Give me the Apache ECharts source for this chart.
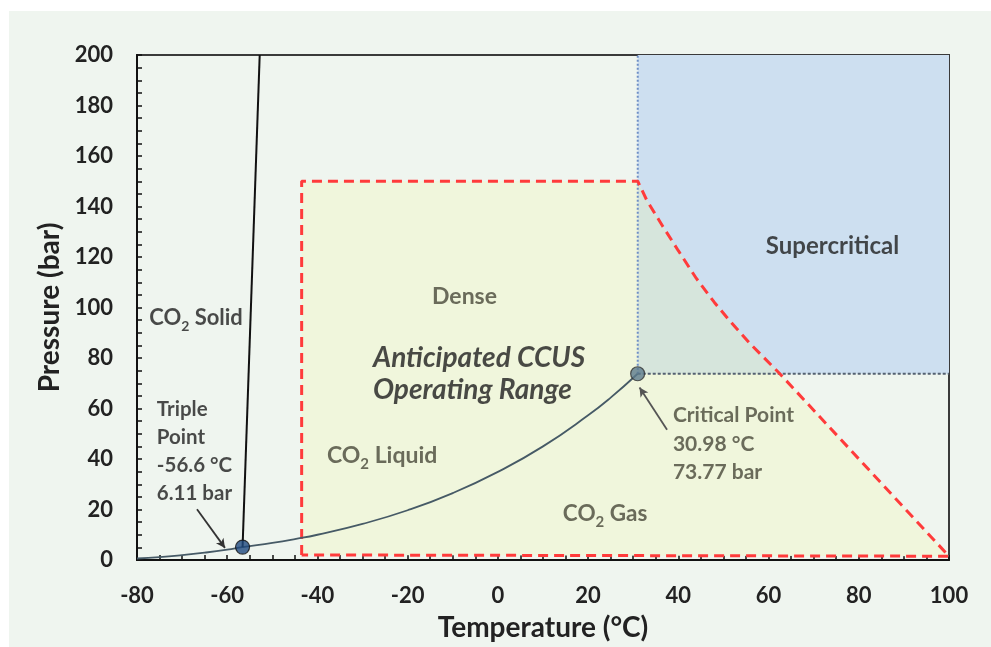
<!DOCTYPE html>
<html><head><meta charset="utf-8">
<script src="https://cdn.jsdelivr.net/npm/echarts@6/dist/echarts.min.js"></script>
<style>
html,body{margin:0;padding:0;background:#ffffff;width:991px;height:647px;overflow:hidden}
#c{position:absolute;left:9px;top:11px;width:982px;height:636px;background:#eff5ef}
</style></head><body><div id="c"></div>
<script>
// ---- data (°C, bar) ----
var xTicks = [-80,-60,-40,-20,0,20,40,60,80,100];
var yTicks = [0,20,40,60,80,100,120,140,160,180,200];
var vaporCurve = [[-80,0.6],[-75,1.1],[-70,1.9],[-65,2.9],[-60,4.1],[-56.6,5.1],[-50,6.8],[-45,8.3],[-40,10.0],[-30,14.3],[-20,19.7],[-10,26.5],[0,34.9],[10,45.0],[20,57.3],[25,64.3],[30.98,73.77]];
var meltingLine = [[-56.6,5.1],[-52.8,200]];
var triplePoint = [[-56.6,5.1]];
var criticalPoint = [[30.98,73.77]];
var opCurve = [[31,150],[33,142.5],[36.6,132],[40,122.5],[44,111.5],[48,102],[51.5,94.5],[56,85.5],[62.5,73.77]];
var opLeft = [[-43.5,2],[-43.5,150]];
var opRight = [[100,1.5]];
var superRect = [[31,73.77],[31,200],[100,200],[100,73.77]];
var critVert = [[31,73.77],[31,200]];
var critHoriz = [[31,73.77],[100,73.77]];
var tripleArrow = [[-66.7,20.1],[-60.5,4.8]];
var criticalArrow = [[37.5,51.6],[31.4,68.3]];

var opPolygon = opLeft.concat(opCurve).concat(opRight);
var opOutline = opPolygon.concat([opLeft[0]]);
var overlapPolygon = [[31,73.77]].concat(opCurve);

var FONT = 'Lato';
var chart = echarts.init(document.getElementById('c'));

function polySeries(name, pts, fill, z){
  return {
    name:name, type:'custom', z:z, silent:true,
    data:[[0,0]],
    renderItem:function(params, api){
      return {type:'polygon', shape:{points:pts.map(function(p){return api.coord(p);})}, style:{fill:fill, stroke:null}};
    }
  };
}
function textItem(pos, text, color, size, opts){
  opts = opts || {};
  return {
    value:pos,
    label:Object.assign({show:true, position:'inside', formatter:text, color:color, fontFamily:FONT,
      fontSize:size, fontWeight:'bold', align:'left', verticalAlign:'middle'}, opts)
  };
}
function co2(rest){
  return '{a|CO}{s|2}{a|' + rest + '}';
}
function co2Rich(color, size){
  return {a:{color:color, fontSize:size, fontFamily:FONT, fontWeight:'bold'},
          s:{color:color, fontSize:Math.round(size*0.65), fontFamily:FONT, fontWeight:'bold', padding:[17,0,0,0]}};
}

var dark = '#1e1e1e', olive = '#48483a';

chart.setOption({
  animation:false,
  grid:{left:128, top:44, right:42, bottom:84, show:true, borderColor:'#3a3a3a', borderWidth:2, backgroundColor:'transparent'},
  xAxis:{type:'value', min:xTicks[0], max:xTicks[xTicks.length-1], interval:20,
    name:'Temperature (°C)', nameLocation:'middle', nameGap:54,
    nameTextStyle:{fontFamily:FONT, fontWeight:'bold', fontSize:28, color:'#222'},
    axisLine:{show:true, onZero:false, lineStyle:{color:'#111', width:2}},
    axisTick:{show:true, inside:true, length:5, lineStyle:{color:'#111', width:1.5}},
    minorTick:{show:true, splitNumber:4, length:5, lineStyle:{color:'#111', width:1.5}},
    splitLine:{show:false},
    axisLabel:{margin:25, fontFamily:FONT, fontWeight:'bold', fontSize:22, color:'#222'}},
  yAxis:{type:'value', min:yTicks[0], max:yTicks[yTicks.length-1], interval:20,
    name:'Pressure (bar)', nameLocation:'middle', nameGap:58,
    nameTextStyle:{fontFamily:FONT, fontWeight:'bold', fontSize:28, color:'#222'},
    axisLine:{show:true, onZero:false, lineStyle:{color:'#111', width:2}},
    axisTick:{show:true, inside:true, length:5, lineStyle:{color:'#111', width:1.5}},
    minorTick:{show:true, splitNumber:4, length:5, lineStyle:{color:'#111', width:1.5}},
    splitLine:{show:false},
    axisLabel:{margin:24, fontFamily:FONT, fontWeight:'bold', fontSize:22, color:'#222'}},
  series:[
    polySeries('supercritical', superRect, '#cddff0', 1),
    polySeries('operating', opPolygon, '#f0f6dc', 2),
    polySeries('overlap', overlapPolygon, '#d6e5dc', 3),
    {type:'line', z:5, data:critVert, showSymbol:false, lineStyle:{color:'#6f8fc6', width:2, type:[2,2]}},
    {type:'line', z:5, data:critHoriz, showSymbol:false, lineStyle:{color:'#556272', width:2, type:[3,2]}},
    {type:'line', z:6, data:opOutline, showSymbol:false, lineStyle:{color:'#ff3b3b', width:3, type:[10,6]}},
    {type:'line', z:7, data:vaporCurve, smooth:true, showSymbol:false, lineStyle:{color:'#465a66', width:1.8}},
    {type:'line', z:7, data:meltingLine, showSymbol:false, lineStyle:{color:'#111', width:2}},
    {type:'line', z:8, data:[], markLine:{silent:true, symbol:['none','arrow'], symbolSize:[7,9], label:{show:false},
      lineStyle:{color:'#333', width:1.8, type:'solid'},
      data:[[{coord:tripleArrow[0]},{coord:tripleArrow[1]}],[{coord:criticalArrow[0], lineStyle:{color:'#555'}},{coord:criticalArrow[1]}]]}},
    {type:'scatter', z:9, data:triplePoint, symbolSize:14, itemStyle:{color:'#1f4a80', borderColor:'#111', borderWidth:1.2}},
    {type:'scatter', z:9, data:criticalPoint, symbolSize:14, itemStyle:{color:'#5c7a8c', borderColor:'#333', borderWidth:1.2}},
    {type:'scatter', z:10, symbolSize:0, silent:true, data:[
      textItem([-77.3,95.7], co2(' Solid'), dark, 22, {rich:co2Rich(dark,22)}),
      textItem([-75.6,43.1], 'Triple\nPoint\n-56.6 °C\n6.11 bar', dark, 20.5, {lineHeight:28}),
      textItem([-14.6,104.3], 'Dense', olive, 23),
      textItem([-27.7,73.6], 'Anticipated CCUS\nOperating Range', '#1e1e1e', 28, {fontStyle:'italic', lineHeight:32}),
      textItem([-37.9,41.3], co2(' Liquid'), olive, 23, {rich:co2Rich(olive,23)}),
      textItem([14.4,18.5], co2(' Gas'), olive, 22.5, {rich:co2Rich(olive,22.5)}),
      textItem([59.4,124.4], 'Supercritical', dark, 24),
      textItem([38.8,45.9], 'Critical Point\n30.98 °C\n73.77 bar', olive, 21, {lineHeight:28.5})
    ]}
  ]
});
</script></body></html>
